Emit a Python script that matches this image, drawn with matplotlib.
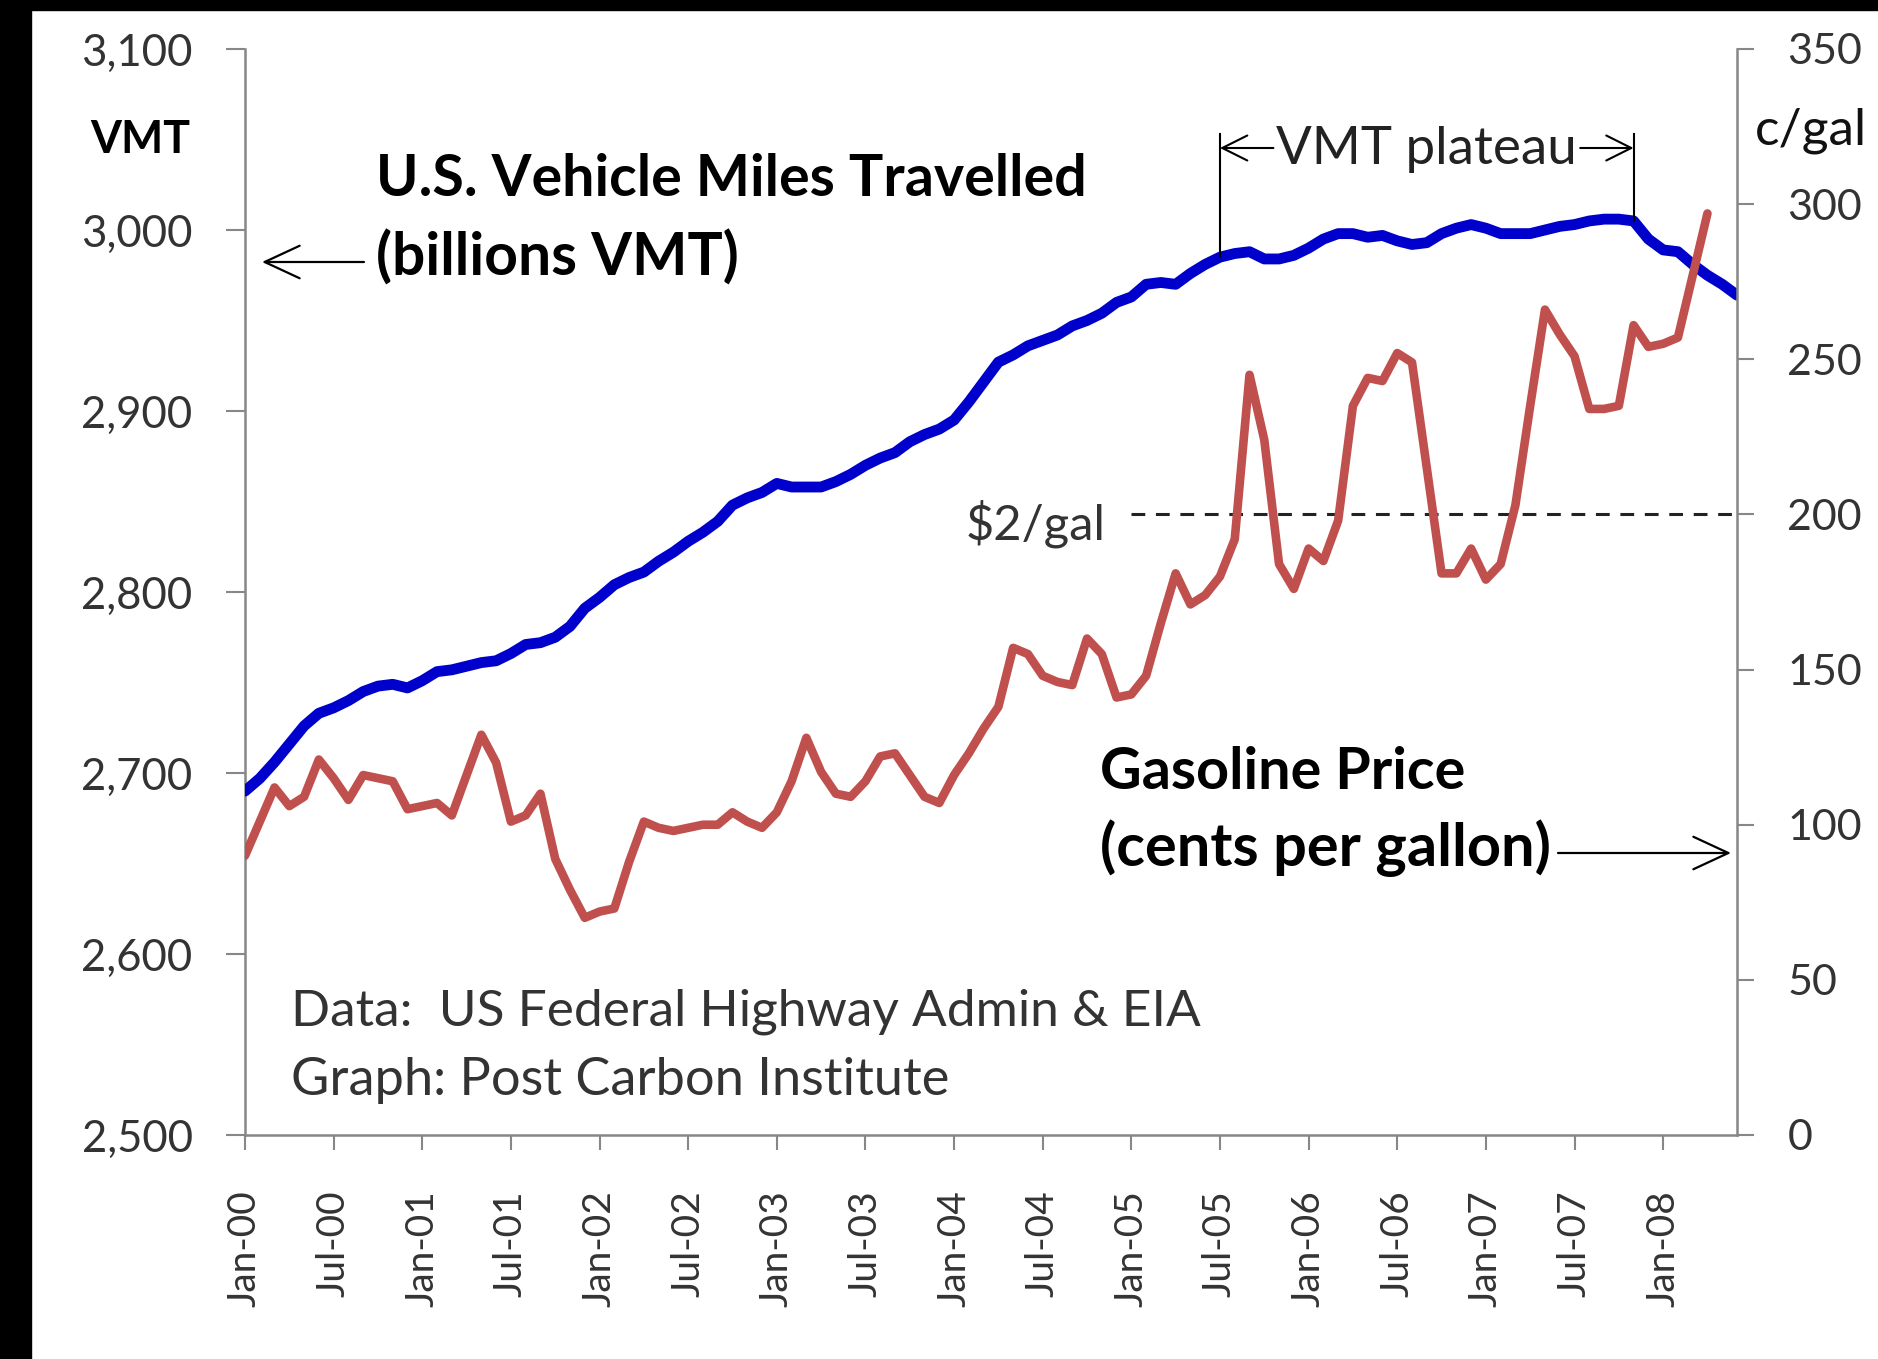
import matplotlib
matplotlib.use('Agg')
import matplotlib.pyplot as plt
from matplotlib.patches import Rectangle
from matplotlib.ticker import FuncFormatter
import numpy as np

plt.rcParams['font.family'] = ['Lato', 'DejaVu Sans']

# ---------------- data ----------------
# monthly, Jan-2000 .. Jun-2008 (VMT, billions, 12-month moving total)
vmt = [2690, 2697, 2706, 2716, 2726, 2733, 2736, 2740, 2745, 2748, 2749, 2747,
       2751, 2756, 2757, 2759, 2761, 2762, 2766, 2771, 2772, 2775, 2781, 2791,
       2797, 2804, 2808, 2811, 2817, 2822, 2828, 2833, 2839, 2848, 2852, 2855,
       2860, 2858, 2858, 2858, 2861, 2865, 2870, 2874, 2877, 2883, 2887, 2890,
       2895, 2905, 2916, 2927, 2931, 2936, 2939, 2942, 2947, 2950, 2954, 2960,
       2963, 2970, 2971, 2970, 2976, 2981, 2985, 2987, 2988, 2984, 2984, 2986,
       2990, 2995, 2998, 2998, 2996, 2997, 2994, 2992, 2993, 2998, 3001, 3003,
       3001, 2998, 2998, 2998, 3000, 3002, 3003, 3005, 3006, 3006, 3005, 2995,
       2989, 2988, 2981, 2975, 2970, 2964]

# monthly gasoline price, cents per gallon, Jan-2000 .. Apr-2008
price = [90, 101, 112, 106, 109, 121, 115, 108, 116, 115, 114, 105,
         106, 107, 103, 116, 129, 120, 101, 103, 110, 89, 79, 70,
         72, 73, 88, 101, 99, 98, 99, 100, 100, 104, 101, 99,
         104, 114, 128, 117, 110, 109, 114, 122, 123, 116, 109, 107,
         116, 123, 131, 138, 157, 155, 148, 146, 145, 160, 155, 141,
         142, 148, 165, 181, 171, 174, 180, 192, 245, 224, 184, 176,
         189, 185, 198, 235, 244, 243, 252, 249, 215, 181, 181, 189,
         179, 184, 203, 235, 266, 258, 251, 234, 234, 235, 261, 254,
         255, 257, 277, 297]

tick_labels = ['Jan-00', 'Jul-00', 'Jan-01', 'Jul-01', 'Jan-02', 'Jul-02',
               'Jan-03', 'Jul-03', 'Jan-04', 'Jul-04', 'Jan-05', 'Jul-05',
               'Jan-06', 'Jul-06', 'Jan-07', 'Jul-07', 'Jan-08']
tick_step = 6                       # one label every 6 months
vmt_ticks = [2500, 2600, 2700, 2800, 2900, 3000, 3100]
price_ticks = [0, 50, 100, 150, 200, 250, 300, 350]
ref_price = 200                     # $2/gal reference
ref_start = 60                      # reference line starts Jan-05
plateau_start, plateau_end = 66, 94  # Jul-05 .. Nov-07

# ---------------- figure ----------------
W, H = 1878, 1359
fig = plt.figure(figsize=(W / 100, H / 100), dpi=100)
fig.patch.set_facecolor('white')

def fx(px):
    return px / W

def fy(py):
    return 1 - py / H

ax = fig.add_axes([fx(245), fy(1135), (1737 - 245) / W, (1135 - 49) / H])
ax2 = ax.twinx()

x = np.arange(len(vmt))
xp = np.arange(len(price))

ax.plot(x, vmt, color='#0000CC', lw=7.8, solid_joinstyle='round',
        solid_capstyle='round', zorder=3)
ax2.plot(xp, price, color='#C0504D', lw=6.2, solid_joinstyle='round',
         solid_capstyle='round', zorder=3)

ax.set_xlim(0, len(vmt) - 1)
ax.set_ylim(vmt_ticks[0], vmt_ticks[-1])
ax2.set_ylim(price_ticks[0], price_ticks[-1])

ax.set_yticks(vmt_ticks)
ax.yaxis.set_major_formatter(FuncFormatter(lambda v, p: f'{int(v):,}'))
ax2.set_yticks(price_ticks)
ax.set_xticks(np.arange(len(tick_labels)) * tick_step)
ax.set_xticklabels(tick_labels, rotation=90)

spine_c = '#878787'
for s in ['top', 'right']:
    ax.spines[s].set_visible(False)
for s in ['top', 'left', 'bottom']:
    ax2.spines[s].set_visible(False)
for s in ['left', 'bottom']:
    ax.spines[s].set_color(spine_c)
    ax.spines[s].set_linewidth(1.8)
ax2.spines['right'].set_color(spine_c)
ax2.spines['right'].set_linewidth(1.8)

lab_c = '#333333'
ax.tick_params(axis='y', direction='out', length=13.7, width=1.5, color=spine_c,
               pad=24, labelsize=31.5, labelcolor=lab_c)
ax.tick_params(axis='x', direction='out', length=10.8, width=1.5, color=spine_c,
               pad=29, labelsize=28, labelcolor=lab_c)
ax2.tick_params(axis='y', direction='out', length=12.2, width=1.5, color=spine_c,
                pad=24, labelsize=31, labelcolor=lab_c)

# $2/gal reference line
ax2.plot([ref_start, len(vmt) - 1], [ref_price, ref_price], color='#222222',
         lw=2.2, linestyle=(0, (4.5, 3.5)), zorder=2)

# black frame bands
fig.patches.append(Rectangle((0, 0), fx(31), 1, transform=fig.transFigure,
                             color='black', zorder=10))
fig.patches.append(Rectangle((0, fy(10)), 1, 10 / H, transform=fig.transFigure,
                             color='black', zorder=10))

renderer = fig.canvas.get_renderer()

def fit(t, target_w):
    w = t.get_window_extent(renderer).width
    t.set_fontsize(t.get_fontsize() * target_w / w)
    return t

def ftext(px, py, s, target_w, ha='left', va='center', **kw):
    t = fig.text(fx(px), fy(py), s, ha=ha, va=va, fontsize=30, **kw)
    return fit(t, target_w)

ftext(190, 140, 'VMT', 100, ha='right', fontweight='bold', color='black')
ftext(1755, 131, 'c/gal', 112, color='#111111')
ftext(376, 180, 'U.S. Vehicle Miles Travelled', 709, fontweight='bold', color='black')
ftext(376, 258, '(billions VMT)', 362, fontweight='bold', color='black')
ftext(1100, 772, 'Gasoline Price', 365, fontweight='bold', color='black')
ftext(1100, 848, '(cents per gallon)', 450, fontweight='bold', color='black')
ftext(291, 1012, 'Data:  US Federal Highway Admin & EIA', 908, color='#333333')
ftext(291, 1081, 'Graph: Post Carbon Institute', 658, color='#333333')
ftext(1106, 524, '$2/gal', 140, ha='right', color='#333333')

arrow_big = dict(arrowstyle='->,head_length=1.4,head_width=0.65', lw=1.6,
                 color='black', shrinkA=0, shrinkB=0, mutation_scale=18)

def fig_arrow(x1, y1, x2, y2, props):
    ax.annotate('', xy=(x2, H - y2), xytext=(x1, H - y1), xycoords='figure pixels',
                textcoords='figure pixels', arrowprops=props, annotation_clip=False)

fig_arrow(364, 262, 262, 262, arrow_big)
fig_arrow(1558, 853, 1731, 853, arrow_big)

# VMT plateau bracket
arrow_y = 2500 + (1135 - 150) / 1.81
top_y = 2500 + (1135 - 134) / 1.81
pt = ax.text((plateau_start + plateau_end) / 2, arrow_y, 'VMT plateau', ha='center',
             va='center', fontsize=30, color='#222222', zorder=5)
fit(pt, 300)
bb = pt.get_window_extent(renderer)
inv = ax.transData.inverted()
xl = inv.transform((bb.x0 - 3, 0))[0]
xr = inv.transform((bb.x1 + 3, 0))[0]
ay = inv.transform((0, (bb.y0 + bb.y1) / 2 + 2))[1]
arrow_small = dict(arrowstyle='->,head_length=1.0,head_width=0.5', lw=1.5,
                   color='black', shrinkA=0, shrinkB=0, mutation_scale=18)
ax.annotate('', xy=(plateau_start, ay), xytext=(xl, ay), arrowprops=arrow_small)
ax.annotate('', xy=(plateau_end, ay), xytext=(xr, ay), arrowprops=arrow_small)
for xi in (plateau_start, plateau_end):
    ax.plot([xi, xi], [vmt[xi], top_y], color='black', lw=1.5, zorder=4)

fig.savefig('out.png', dpi=100, facecolor='white')
